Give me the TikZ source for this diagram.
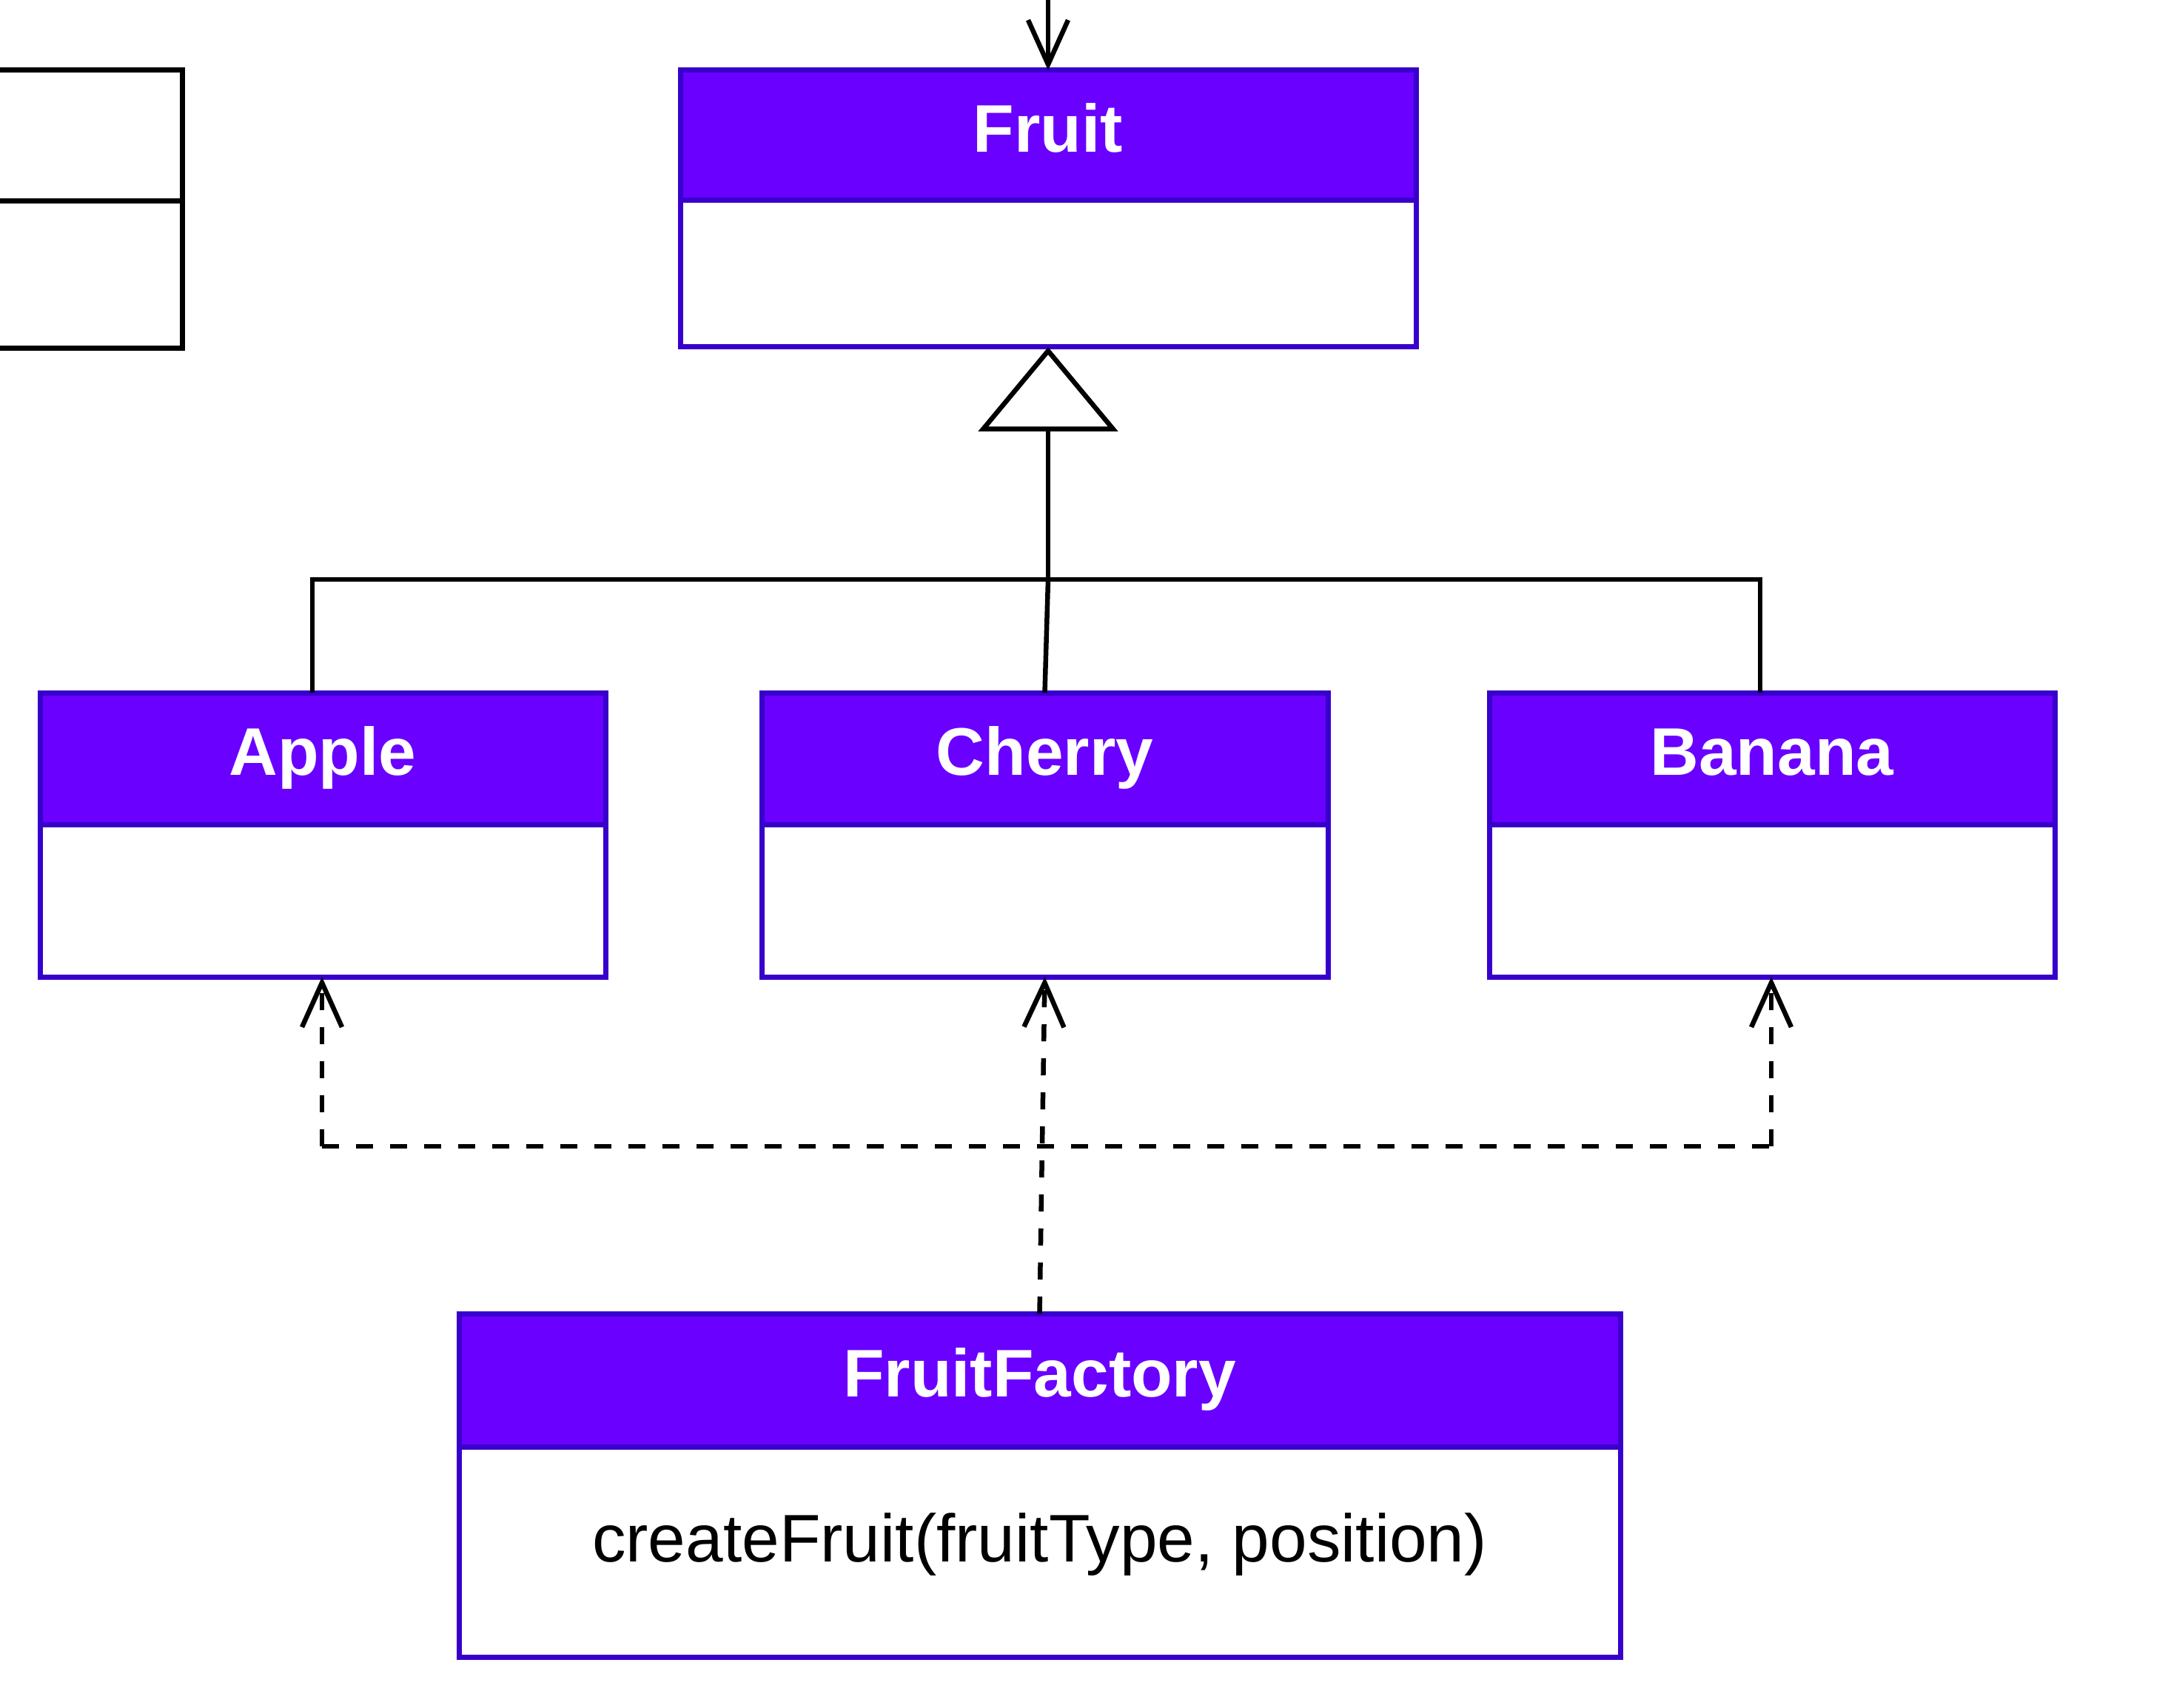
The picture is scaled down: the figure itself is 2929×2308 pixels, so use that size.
\documentclass[tikz,border=0pt]{standalone}
\usepackage{fontspec}
\setmainfont{Liberation Sans}
\usetikzlibrary{arrows.meta,calc}
\definecolor{umlfill}{HTML}{6A00FF}
\definecolor{umlstroke}{HTML}{3700CC}
\begin{document}
\begin{tikzpicture}[x=0.25pt,y=-0.25pt,
  boxbase/.style={rectangle, inner sep=0pt, outer sep=0pt, anchor=north west, line width=1.75pt},
  hdr/.style={boxbase, draw=umlstroke, fill=umlfill, text=white,
    font=\fontsize{22.75}{27}\selectfont\bfseries, text height=17pt, text depth=5.7pt},
  bodybox/.style={boxbase, draw=umlstroke, fill=white, text=black,
    font=\fontsize{22.75}{27}\selectfont, text height=14.8pt, text depth=8pt},
  plainbox/.style={boxbase, draw=black, fill=white},
  solidline/.style={draw=black, line width=1.625pt},
  dashline/.style={draw=black, line width=1.625pt, dash pattern=on 5.75pt off 5.75pt},
  openhead/.style={-{Straight Barb[length=15pt, width=13.5pt, line width=1.625pt]}},
  inhhead/.style={-{Triangle[open, length=28.5pt, width=47pt, line width=1.625pt]}}
]
\useasboundingbox (0,0) rectangle (2929,2308);

% partial box at the left edge
\node[plainbox, minimum width={446*0.25pt}, minimum height={177*0.25pt}] (leftH) at (-200,95) {};
\node[plainbox, minimum width={446*0.25pt}, minimum height={199*0.25pt}] (leftB) at (-200,272) {};

% Fruit
\node[hdr, minimum width={994*0.25pt}, minimum height={176*0.25pt}] (fruitH) at (919,95) {Fruit};
\node[bodybox, minimum width={994*0.25pt}, minimum height={198*0.25pt}] (fruitB) at (919,271) {};

% Apple, Cherry, Banana
\node[hdr, minimum width={764*0.25pt}, minimum height={178*0.25pt}] (appleH) at (54,936) {Apple};
\node[bodybox, minimum width={764*0.25pt}, minimum height={206*0.25pt}] (appleB) at (54,1114) {};
\node[hdr, minimum width={765*0.25pt}, minimum height={178*0.25pt}] (cherryH) at (1029,936) {Cherry};
\node[bodybox, minimum width={765*0.25pt}, minimum height={206*0.25pt}] (cherryB) at (1029,1114) {};
\node[hdr, minimum width={764*0.25pt}, minimum height={178*0.25pt}] (bananaH) at (2012,936) {Banana};
\node[bodybox, minimum width={764*0.25pt}, minimum height={206*0.25pt}] (bananaB) at (2012,1114) {};

% FruitFactory
\node[hdr, minimum width={1569*0.25pt}, minimum height={180*0.25pt}] (factH) at (620,1775) {FruitFactory};
\node[bodybox, minimum width={1569*0.25pt}, minimum height={284*0.25pt}] (factB) at (620,1955) {createFruit(fruitType, position)};

% incoming arrow at the top
\coordinate (topin) at (1416,0);
\draw[solidline, openhead] (topin) -- (topin |- fruitH.north);

% generalisation
\coordinate (junction) at (1416,783);
\coordinate (jl) at (422,783);
\coordinate (jr) at (2378,783);
\draw[solidline, inhhead] (junction) -- (junction |- fruitB.south);
\draw[solidline] (appleH.north -| jl) -- (jl) -- (jr) -- (bananaH.north -| jr);
\draw[solidline] (junction) -- (cherryH.north);

% dependencies
\coordinate (dl) at (435,1549);
\coordinate (dr) at (2393,1549);
\draw[dashline, openhead] (dl) -- (appleB.south -| dl);
\draw[dashline, openhead] (dr) -- (bananaB.south -| dr);
\draw[dashline] (dl) -- (dr);
\draw[dashline, openhead] (factH.north) -- (cherryB.south);
\end{tikzpicture}
\end{document}
